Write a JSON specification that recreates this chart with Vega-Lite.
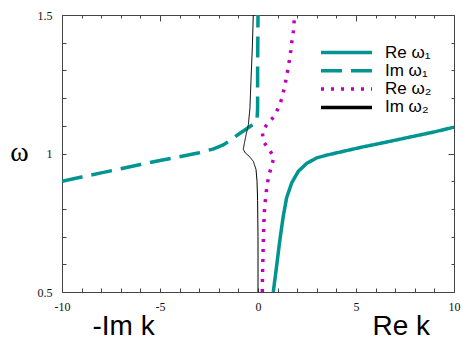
{
  "$schema": "https://vega.github.io/schema/vega-lite/v6.json",
  "autosize": "none",
  "width": 392,
  "height": 277,
  "padding": {"left": 62, "top": 15, "right": 9, "bottom": 48},
  "background": "white",
  "config": {
    "view": {"stroke": "#444", "strokeWidth": 1},
    "axis": {"domain": false, "grid": false, "tickColor": "#444", "tickWidth": 1, "labelColor": "#111", "labelFont": "Liberation Serif", "labelFontSize": 12}
  },
  "data": {"values": [
    {"s": "Re ω₁", "i": 0, "x": 0.78, "y": 0.5},
    {"s": "Re ω₁", "i": 1, "x": 0.95, "y": 0.594},
    {"s": "Re ω₁", "i": 2, "x": 1.12, "y": 0.69},
    {"s": "Re ω₁", "i": 3, "x": 1.29, "y": 0.774},
    {"s": "Re ω₁", "i": 4, "x": 1.46, "y": 0.84},
    {"s": "Re ω₁", "i": 5, "x": 1.72, "y": 0.894},
    {"s": "Re ω₁", "i": 6, "x": 2.06, "y": 0.936},
    {"s": "Re ω₁", "i": 7, "x": 2.48, "y": 0.964},
    {"s": "Re ω₁", "i": 8, "x": 2.99, "y": 0.984},
    {"s": "Re ω₁", "i": 9, "x": 3.5, "y": 0.994},
    {"s": "Re ω₁", "i": 10, "x": 4.18, "y": 1.005},
    {"s": "Re ω₁", "i": 11, "x": 5.37, "y": 1.024},
    {"s": "Re ω₁", "i": 12, "x": 6.2, "y": 1.036},
    {"s": "Re ω₁", "i": 13, "x": 7.07, "y": 1.049},
    {"s": "Re ω₁", "i": 14, "x": 8.0, "y": 1.063},
    {"s": "Re ω₁", "i": 15, "x": 9.0, "y": 1.078},
    {"s": "Re ω₁", "i": 16, "x": 10.0, "y": 1.095},
    {"s": "Im ω₁", "i": 0, "x": -10, "y": 0.9},
    {"s": "Im ω₁", "i": 1, "x": -9, "y": 0.915},
    {"s": "Im ω₁", "i": 2, "x": -8, "y": 0.93},
    {"s": "Im ω₁", "i": 3, "x": -7, "y": 0.945},
    {"s": "Im ω₁", "i": 4, "x": -6, "y": 0.96},
    {"s": "Im ω₁", "i": 5, "x": -5, "y": 0.975},
    {"s": "Im ω₁", "i": 6, "x": -4, "y": 0.988},
    {"s": "Im ω₁", "i": 7, "x": -3, "y": 1.003},
    {"s": "Im ω₁", "i": 8, "x": -2.3, "y": 1.016},
    {"s": "Im ω₁", "i": 9, "x": -1.8, "y": 1.03},
    {"s": "Im ω₁", "i": 10, "x": -1.43, "y": 1.047},
    {"s": "Im ω₁", "i": 11, "x": -0.92, "y": 1.073},
    {"s": "Im ω₁", "i": 12, "x": -0.5, "y": 1.093},
    {"s": "Im ω₁", "i": 13, "x": -0.15, "y": 1.11},
    {"s": "Im ω₁", "i": 14, "x": -0.05, "y": 1.125},
    {"s": "Im ω₁", "i": 15, "x": -0.02, "y": 1.16},
    {"s": "Im ω₁", "i": 16, "x": -0.02, "y": 1.3},
    {"s": "Im ω₁", "i": 17, "x": -0.01, "y": 1.4},
    {"s": "Im ω₁", "i": 18, "x": 0.0, "y": 1.5},
    {"s": "Re ω₂", "i": 0, "x": 0.22, "y": 0.5},
    {"s": "Re ω₂", "i": 1, "x": 0.23, "y": 0.56},
    {"s": "Re ω₂", "i": 2, "x": 0.25, "y": 0.62},
    {"s": "Re ω₂", "i": 3, "x": 0.27, "y": 0.68},
    {"s": "Re ω₂", "i": 4, "x": 0.29, "y": 0.73},
    {"s": "Re ω₂", "i": 5, "x": 0.32, "y": 0.784},
    {"s": "Re ω₂", "i": 6, "x": 0.36, "y": 0.819},
    {"s": "Re ω₂", "i": 7, "x": 0.41, "y": 0.855},
    {"s": "Re ω₂", "i": 8, "x": 0.47, "y": 0.888},
    {"s": "Re ω₂", "i": 9, "x": 0.56, "y": 0.922},
    {"s": "Re ω₂", "i": 10, "x": 0.7, "y": 0.957},
    {"s": "Re ω₂", "i": 11, "x": 0.82, "y": 0.988},
    {"s": "Re ω₂", "i": 12, "x": 0.53, "y": 1.017},
    {"s": "Re ω₂", "i": 13, "x": 0.27, "y": 1.044},
    {"s": "Re ω₂", "i": 14, "x": 0.22, "y": 1.08},
    {"s": "Re ω₂", "i": 15, "x": 0.49, "y": 1.108},
    {"s": "Re ω₂", "i": 16, "x": 0.83, "y": 1.134},
    {"s": "Re ω₂", "i": 17, "x": 1.04, "y": 1.165},
    {"s": "Re ω₂", "i": 18, "x": 1.21, "y": 1.197},
    {"s": "Re ω₂", "i": 19, "x": 1.33, "y": 1.232},
    {"s": "Re ω₂", "i": 20, "x": 1.43, "y": 1.267},
    {"s": "Re ω₂", "i": 21, "x": 1.52, "y": 1.302},
    {"s": "Re ω₂", "i": 22, "x": 1.6, "y": 1.336},
    {"s": "Re ω₂", "i": 23, "x": 1.67, "y": 1.37},
    {"s": "Re ω₂", "i": 24, "x": 1.73, "y": 1.405},
    {"s": "Re ω₂", "i": 25, "x": 1.8, "y": 1.439},
    {"s": "Re ω₂", "i": 26, "x": 1.87, "y": 1.5},
    {"s": "Im ω₂", "i": 0, "x": 0.0, "y": 0.5},
    {"s": "Im ω₂", "i": 1, "x": 0.0, "y": 0.7},
    {"s": "Im ω₂", "i": 2, "x": -0.02, "y": 0.83},
    {"s": "Im ω₂", "i": 3, "x": -0.05, "y": 0.9},
    {"s": "Im ω₂", "i": 4, "x": -0.1, "y": 0.942},
    {"s": "Im ω₂", "i": 5, "x": -0.24, "y": 0.972},
    {"s": "Im ω₂", "i": 6, "x": -0.45, "y": 0.99},
    {"s": "Im ω₂", "i": 7, "x": -0.66, "y": 1.003},
    {"s": "Im ω₂", "i": 8, "x": -0.75, "y": 1.015},
    {"s": "Im ω₂", "i": 9, "x": -0.7, "y": 1.035},
    {"s": "Im ω₂", "i": 10, "x": -0.6, "y": 1.07},
    {"s": "Im ω₂", "i": 11, "x": -0.49, "y": 1.105},
    {"s": "Im ω₂", "i": 12, "x": -0.41, "y": 1.165},
    {"s": "Im ω₂", "i": 13, "x": -0.36, "y": 1.261},
    {"s": "Im ω₂", "i": 14, "x": -0.29, "y": 1.381},
    {"s": "Im ω₂", "i": 15, "x": -0.24, "y": 1.5}
  ]},
  "layer": [
    {
      "mark": {"type": "line", "clip": true, "strokeCap": "butt", "strokeJoin": "round"},
      "encoding": {
        "x": {"field": "x", "type": "quantitative", "scale": {"domain": [-10, 10], "nice": false, "zero": false},
          "axis": {"orient": "bottom", "values": [-10,-9,-8,-7,-6,-5,-4,-3,-2,-1,0,1,2,3,4,5,6,7,8,9,10],
            "labelExpr": "datum.value % 5 === 0 ? toString(datum.value) : ''",
            "tickSize": -4,
            "labelPadding": 13, "labelFlush": false,
            "title": "-Im k\u00a0\u00a0\u00a0\u00a0\u00a0\u00a0\u00a0\u00a0\u00a0\u00a0\u00a0\u00a0\u00a0\u00a0\u00a0\u00a0\u00a0\u00a0\u00a0\u00a0\u00a0\u00a0\u00a0\u00a0\u00a0\u00a0\u00a0\u00a0Re k",
            "titleFont": "Liberation Sans", "titleFontSize": 28, "titleFontWeight": "normal", "titleColor": "#000",
            "titleX": 30, "titleY": 42, "titleAlign": "left", "titleBaseline": "alphabetic"}},
        "y": {"field": "y", "type": "quantitative", "scale": {"domain": [0.5, 1.5], "nice": false, "zero": false},
          "axis": {"orient": "left", "values": [0.5,0.6,0.7,0.8,0.9,1.0,1.1,1.2,1.3,1.4,1.5],
            "labelExpr": "abs(datum.value*2 - round(datum.value*2)) < 0.01 ? toString(datum.value) : ''",
            "tickSize": -4,
            "labelPadding": 14, "labelFlush": false,
            "title": "ω", "titleAngle": 0, "titleFont": "Liberation Serif", "titleFontSize": 28, "titleFontWeight": "normal", "titleColor": "#000",
            "titleX": -43, "titleY": 145, "titleAlign": "center", "titleBaseline": "alphabetic"}},
        "color": {"field": "s", "type": "nominal",
          "scale": {"domain": ["Re ω₁", "Im ω₁", "Re ω₂", "Im ω₂"], "range": ["#009590", "#009590", "#c000c0", "#000000"]},
          "legend": {"orient": "none", "legendX": 257, "legendY": 30, "title": null, "symbolType": "stroke", "symbolSize": 2601,
            "clipHeight": 15, "rowPadding": 0.3, "padding": 0,
            "labelFont": "Liberation Sans", "labelFontSize": 17, "labelColor": "#000", "labelOffset": 11,
            "symbolStrokeWidth": 3.5}},
        "strokeDash": {"field": "s", "type": "nominal",
          "scale": {"domain": ["Re ω₁", "Im ω₁", "Re ω₂", "Im ω₂"], "range": [[1, 0], [21, 9], [3, 7], [1, 0]]}},
        "strokeWidth": {"condition": {"test": "datum.s === 'Im ω₂'", "value": 1}, "value": 3.5},
        "order": {"field": "i", "type": "quantitative"}
      }
    },
    {
      "mark": {"type": "line", "opacity": 0},
      "encoding": {
        "x": {"field": "x", "type": "quantitative",
          "axis": {"orient": "top", "values": [-10,-9,-8,-7,-6,-5,-4,-3,-2,-1,0,1,2,3,4,5,6,7,8,9,10], "labels": false, "title": null,
            "tickSize": {"condition": {"test": "datum.value % 5 === 0", "value": -6}, "value": -3}}},
        "y": {"field": "y", "type": "quantitative",
          "axis": {"orient": "right", "values": [0.5,0.6,0.7,0.8,0.9,1.0,1.1,1.2,1.3,1.4,1.5], "labels": false, "title": null,
            "tickSize": {"condition": {"test": "abs(datum.value*2 - round(datum.value*2)) < 0.01", "value": -6}, "value": -3}}},
        "detail": {"field": "s", "type": "nominal"},
        "order": {"field": "i", "type": "quantitative"}
      }
    }
  ],
  "resolve": {"axis": {"x": "independent", "y": "independent"}}
}
